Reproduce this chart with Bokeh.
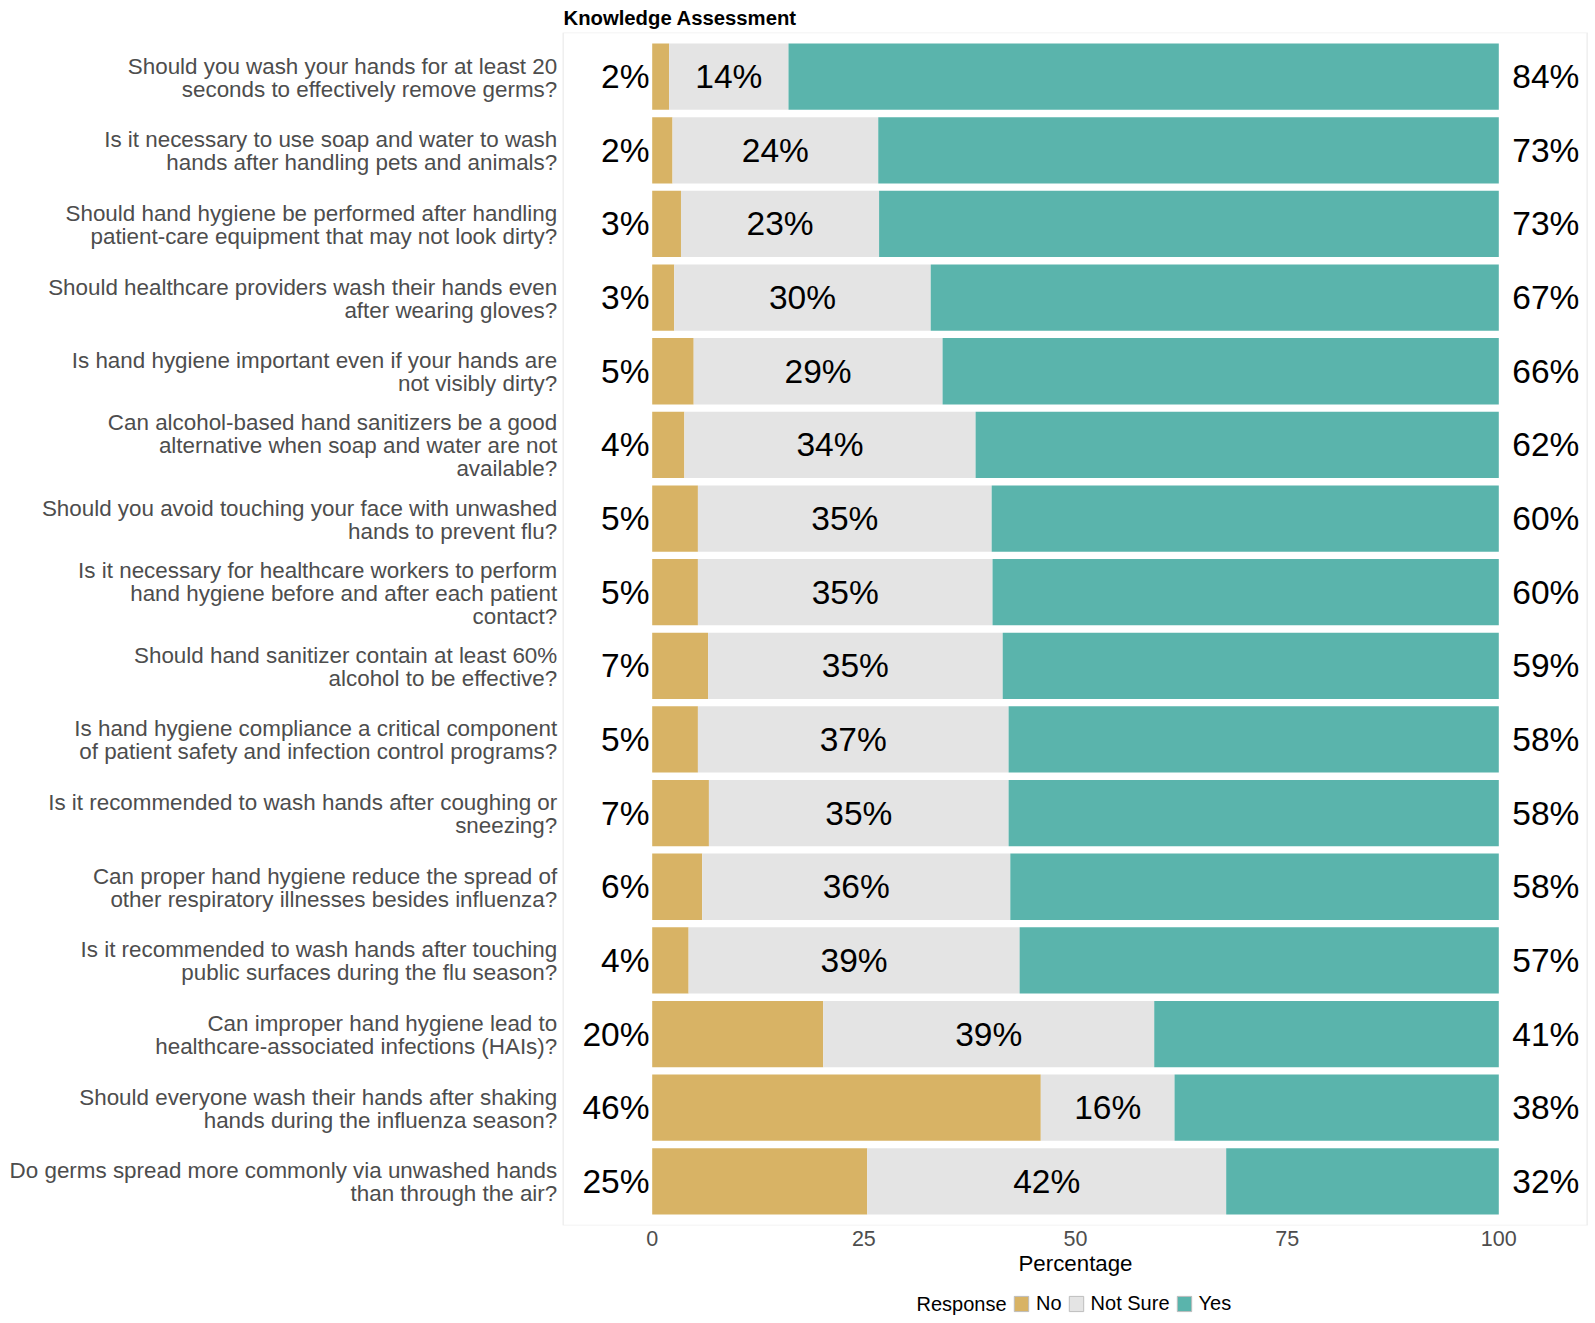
from bokeh.plotting import figure
from bokeh.layouts import column
from bokeh.models import (FactorRange, Range1d, ColumnDataSource, Legend, LegendItem,
                          FixedTicker, BoxAnnotation)
from bokeh.core.properties import value
from bokeh.embed import file_html
from bokeh.resources import INLINE

questions = [
    "Should you wash your hands for at least 20\nseconds to effectively remove germs?",
    "Is it necessary to use soap and water to wash\nhands after handling pets and animals?",
    "Should hand hygiene be performed after handling\npatient-care equipment that may not look dirty?",
    "Should healthcare providers wash their hands even\nafter wearing gloves?",
    "Is hand hygiene important even if your hands are\nnot visibly dirty?",
    "Can alcohol-based hand sanitizers be a good\nalternative when soap and water are not\navailable?",
    "Should you avoid touching your face with unwashed\nhands to prevent flu?",
    "Is it necessary for healthcare workers to perform\nhand hygiene before and after each patient\ncontact?",
    "Should hand sanitizer contain at least 60%\nalcohol to be effective?",
    "Is hand hygiene compliance a critical component\nof patient safety and infection control programs?",
    "Is it recommended to wash hands after coughing or\nsneezing?",
    "Can proper hand hygiene reduce the spread of\nother respiratory illnesses besides influenza?",
    "Is it recommended to wash hands after touching\npublic surfaces during the flu season?",
    "Can improper hand hygiene lead to\nhealthcare-associated infections (HAIs)?",
    "Should everyone wash their hands after shaking\nhands during the influenza season?",
    "Do germs spread more commonly via unwashed hands\nthan through the air?",
]
no_pct = [2.0, 2.4, 3.4, 2.6, 4.9, 3.8, 5.4, 5.4, 6.6, 5.4, 6.7, 5.9, 4.3, 20.2, 45.9, 25.4]
notsure_pct = [14.1, 24.3, 23.4, 30.3, 29.4, 34.4, 34.7, 34.8, 34.8, 36.7, 35.4, 36.4, 39.1, 39.1, 15.8, 42.4]
yes_pct = [83.9, 73.3, 73.2, 67.1, 65.7, 61.8, 59.9, 59.8, 58.6, 57.9, 57.9, 57.7, 56.6, 40.7, 38.3, 32.2]
responses = ["No", "Not Sure", "Yes"]
x_ticks = [0, 25, 50, 75, 100]
x_title = "Percentage"
legend_title = "Response"
chart_title = "Knowledge Assessment"

colors = {"No": "#D8B365", "Not Sure": "#E4E4E4", "Yes": "#5AB4AC"}
FONT = "Liberation Sans"
W = 1590
MAIN_H = 1252
STRIP_H = 71
PX0 = 651.7                          # canvas px of x = 0
PXU = 8.466                          # canvas px per unit
VIEW_X0, VIEW_X1 = -PX0 / PXU, (W - PX0) / PXU
PANEL_X0, PANEL_X1 = -10.51, 110.44  # panel edges in data units

ns_start = list(no_pct)
ns_end = [a + b for a, b in zip(no_pct, notsure_pct)]
yes_end = [a + b + c for a, b, c in zip(no_pct, notsure_pct, yes_pct)]

src = ColumnDataSource(dict(
    q=questions,
    no0=[0] * len(questions), no1=no_pct,
    ns0=ns_start, ns1=ns_end,
    y0=ns_end, y1=yes_end,
    ns_mid=[(a + b) / 2 for a, b in zip(ns_start, ns_end)],
    no_lab=[f"{v:.0f}%" for v in no_pct],
    ns_lab=[f"{v:.0f}%" for v in notsure_pct],
    yes_lab=[f"{v:.0f}%" for v in yes_pct],
    left_x=[-0.32] * len(questions),
    right_x=[101.6] * len(questions),
))

# question label lines (one row per line)
line_q, line_txt, line_off = [], [], []
LINE_H = 23
for q in questions:
    parts = q.split("\n")
    n = len(parts)
    for i, t in enumerate(parts):
        line_q.append(q)
        line_txt.append(t)
        line_off.append((i - (n - 1) / 2) * LINE_H + 1.0)
lab_src = ColumnDataSource(dict(q=line_q, t=line_txt, off=line_off, x=[-11.22] * len(line_q)))

yr = FactorRange(factors=list(reversed(questions)), range_padding=0.1, range_padding_units="absolute")
p = figure(width=W, height=MAIN_H, y_range=yr, x_range=Range1d(VIEW_X0, VIEW_X1),
           output_backend="svg", toolbar_location=None,
           min_border_left=0, min_border_right=0, min_border_top=32, min_border_bottom=27)

r_no = p.hbar(y="q", left="no0", right="no1", height=0.9, source=src, fill_color=colors["No"], line_color=None)
r_ns = p.hbar(y="q", left="ns0", right="ns1", height=0.9, source=src, fill_color=colors["Not Sure"], line_color=None)
r_yes = p.hbar(y="q", left="y0", right="y1", height=0.9, source=src, fill_color=colors["Yes"], line_color=None)

tk = dict(source=src, text_font=value(FONT), text_font_size="33.5px", text_color="black", text_baseline="middle")
p.text(x="left_x", y="q", text="no_lab", text_align="right", **tk)
p.text(x="ns_mid", y="q", text="ns_lab", text_align="center", **tk)
p.text(x="right_x", y="q", text="yes_lab", text_align="left", **tk)

p.text(x="x", y="q", text="t", y_offset="off", source=lab_src,
       text_font=value(FONT), text_font_size="22.4px", text_color="#4D4D4D",
       text_align="right", text_baseline="middle")

# panel border
p.add_layout(BoxAnnotation(left=PANEL_X0, right=PANEL_X1, fill_alpha=0,
                           line_color="#C8C8C8", line_width=1.5))

# title
p.title.text = chart_title
p.title.text_font = FONT
p.title.text_font_size = "20.3px"
p.title.text_font_style = "bold"
p.title.text_color = "black"
p.title.align = "left"
p.title.offset = 563
p.title.standoff = 8

p.outline_line_color = None
p.xgrid.grid_line_color = None
p.ygrid.grid_line_color = None

p.xaxis.ticker = FixedTicker(ticks=x_ticks)
p.xaxis.major_label_text_font = FONT
p.xaxis.major_label_text_font_size = "21.5px"
p.xaxis.major_label_text_color = "#4D4D4D"
p.xaxis.major_label_standoff = 5
p.xaxis.axis_line_color = None
p.xaxis.major_tick_line_color = None
p.xaxis.minor_tick_line_color = None
p.xaxis.major_tick_out = 0
p.yaxis.visible = False

# bottom strip: axis title + legend
lf = figure(width=W, height=STRIP_H, x_range=Range1d(VIEW_X0, VIEW_X1), y_range=Range1d(0, STRIP_H),
            output_backend="svg", toolbar_location=None,
            min_border_left=0, min_border_right=0, min_border_top=0, min_border_bottom=0)
lf.axis.visible = False
lf.grid.grid_line_color = None
lf.outline_line_color = None
lf.text(x=[50], y=[STRIP_H - 11], text=[x_title], text_font=value(FONT), text_font_size="22.3px",
        text_color="black", text_align="center", text_baseline="middle")
leg_renderers = []
for r in responses:
    leg_renderers.append(lf.hbar(y=[-100], left=[0], right=[1], height=1,
                                 fill_color=colors[r], line_color="#BDBDBD", line_width=1))
lf.text(x=[(1006 - PX0) / PXU], y=[20], text=[legend_title], text_font=value(FONT), text_font_size="20px",
        text_color="black", text_align="right", text_baseline="middle")
legend = Legend(items=[LegendItem(label=r, renderers=[rr]) for r, rr in zip(responses, leg_renderers)],
                orientation="horizontal", location=(1012, 8))
legend.label_text_font = FONT
legend.label_text_font_size = "20px"
legend.label_text_color = "black"
legend.glyph_width = 18
legend.glyph_height = 19
legend.label_height = 24
legend.spacing = 5
legend.label_standoff = 6
legend.padding = 0
legend.margin = 0
legend.border_line_color = None
legend.background_fill_alpha = 0
lf.add_layout(legend)

layout = column(p, lf, spacing=0)
open("out.html", "w").write(file_html(layout, INLINE))
